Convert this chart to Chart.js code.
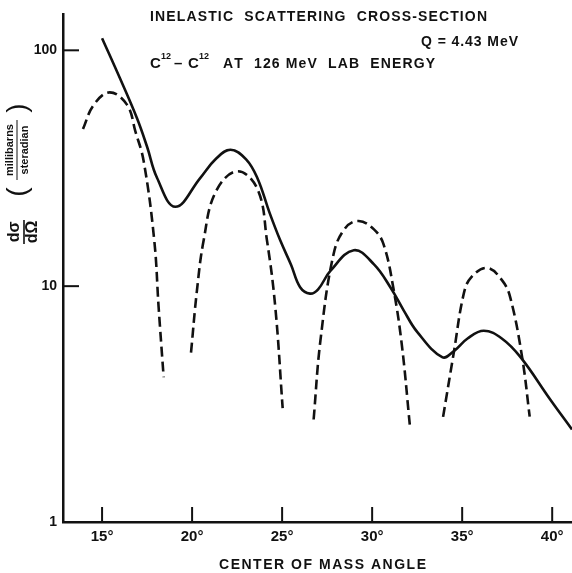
<!DOCTYPE html>
<html>
<head>
<meta charset="utf-8">
<script src="https://cdn.jsdelivr.net/npm/chart.js@4"></script>
<style>
  html, body { margin: 0; padding: 0; background: #fff; }
  canvas { display: block; }
</style>
</head>
<body>
<canvas id="myChart" width="572" height="573"></canvas>
<script>
// solid curve: measured cross-section
const solid_angle = [15.0, 16.0, 16.94, 17.5, 18.05, 19.07, 20.46, 21.3, 22.13, 23.0, 23.63, 24.3, 24.9, 25.5, 26.0, 26.55, 27.0, 27.68, 28.98, 30.09, 31.01, 31.75, 32.5, 33.89, 34.53, 35.3, 36.2, 37.2, 38.24, 39.9, 41.1];
const solid_value = [112.6, 75.9, 51.5, 39.0, 28.8, 21.7, 28.8, 34.5, 37.9, 34.5, 28.7, 20.5, 15.6, 12.3, 9.9, 9.3, 9.7, 11.6, 14.2, 12.4, 9.9, 7.9, 6.4, 5.0, 5.3, 6.0, 6.47, 6.0, 5.0, 3.3, 2.47];

// dashed curve: calculated lobes, null breaks the line between lobes
const dash_angle = [13.94, 14.53, 15.42, 16.39, 16.85, 17.31, 17.9, 18.14, 18.42, 19.2,
                    19.94, 20.27, 20.64, 21.3, 22.5, 23.63, 24.16, 24.62, 25.03, 25.9,
                    26.75, 27.13, 27.86, 28.5, 29.25, 30.1, 30.64, 31.2, 31.66, 32.09, 33.0,
                    33.94, 34.53, 35.09, 35.5, 36.39, 37.25, 37.68, 38.33, 38.75];
const dash_value = [46.4, 58.6, 66.3, 58.7, 45.3, 33.9, 15.6, 8.16, 4.11, null,
                    5.22, 9.6, 15.6, 25.0, 30.7, 25.8, 15.6, 8.16, 3.04, null,
                    2.72, 5.9, 13.7, 17.6, 18.9, 17.4, 15.0, 9.6, 5.54, 2.59, null,
                    2.79, 5.2, 9.3, 10.9, 11.95, 10.5, 8.9, 5.0, 2.8];

const x_ticks = [15, 20, 25, 30, 35, 40];
const y_ticks = [1, 10, 100];

const INK = "#111";

function spaced(ctx, text, x0, x1, y) {
  const chars = [...text];
  const widths = chars.map((c) => ctx.measureText(c).width);
  const total = widths.reduce((a, b) => a + b, 0);
  const gap = chars.length > 1 ? (x1 - x0 - total) / (chars.length - 1) : 0;
  let x = x0;
  chars.forEach((c, i) => {
    ctx.fillText(c, x, y);
    x += widths[i] + gap;
  });
}

const decorations = {
  id: "decorations",
  beforeDraw(chart) {
    const ctx = chart.ctx;
    ctx.save();
    ctx.fillStyle = "#fff";
    ctx.fillRect(0, 0, chart.width, chart.height);
    ctx.restore();
  },
  afterDraw(chart) {
    const ctx = chart.ctx;
    const xs = chart.scales.x, ys = chart.scales.y;
    const area = chart.chartArea;
    ctx.save();
    ctx.strokeStyle = INK;
    ctx.fillStyle = INK;
    ctx.lineWidth = 2;

    // inward tick marks
    x_ticks.forEach((v) => {
      const px = xs.getPixelForValue(v);
      ctx.beginPath();
      ctx.moveTo(px, area.bottom);
      ctx.lineTo(px, area.bottom - 15);
      ctx.stroke();
    });
    [10, 100].forEach((v) => {
      const py = ys.getPixelForValue(v);
      ctx.beginPath();
      ctx.moveTo(area.left, py);
      ctx.lineTo(area.left + 16, py);
      ctx.stroke();
    });

    // header text
    ctx.textBaseline = "middle";
    ctx.textAlign = "left";
    ctx.font = 'bold 14px "Liberation Sans"';
    spaced(ctx, "INELASTIC  SCATTERING  CROSS-SECTION", 150, 487, 17);
    spaced(ctx, "Q = 4.43 MeV", 421, 518, 42);
    ctx.font = 'bold 15px "Liberation Sans"';
    ctx.fillText("C", 150, 64);
    ctx.fillText("\u2013", 174, 64);
    ctx.fillText("C", 188, 64);
    ctx.font = 'bold 9px "Liberation Sans"';
    ctx.fillText("12", 161, 57);
    ctx.fillText("12", 199, 57);
    ctx.font = 'bold 14px "Liberation Sans"';
    spaced(ctx, "AT  126 MeV  LAB  ENERGY", 223, 435, 64);

    // x axis title
    ctx.font = 'bold 14px "Liberation Sans"';
    spaced(ctx, "CENTER OF MASS ANGLE", 219, 426, 565);

    // y axis title, rotated
    ctx.save();
    ctx.translate(24, 232);
    ctx.rotate(-Math.PI / 2);
    ctx.textAlign = "center";
    ctx.font = 'bold 16px "Liberation Sans"';
    ctx.fillText("d\u03C3", 0, -9);
    ctx.fillText("d\u03A9", 0, 9);
    ctx.lineWidth = 1.6;
    ctx.beginPath();
    ctx.moveTo(-12, 0);
    ctx.lineTo(12, 0);
    ctx.stroke();
    ctx.restore();

    ctx.save();
    ctx.translate(17, 150);
    ctx.rotate(-Math.PI / 2);
    ctx.textAlign = "center";
    ctx.font = 'bold 11px "Liberation Sans"';
    ctx.fillText("millibarns", 0, -7);
    ctx.fillText("steradian", 0, 8);
    ctx.lineWidth = 1;
    ctx.beginPath();
    ctx.moveTo(-30, 0);
    ctx.lineTo(30, 0);
    ctx.stroke();
    ctx.font = '28px "Liberation Sans"';
    ctx.fillText("(", -42, 1);
    ctx.fillText(")", 42, 1);
    ctx.restore();

    ctx.restore();
  },
};

const solid_points = solid_angle.map((a, i) => ({ x: a, y: solid_value[i] }));
const dash_points = dash_angle.map((a, i) => ({ x: a, y: dash_value[i] }));

const config = {
  type: "line",
  data: {
    datasets: [
      {
        label: "solid",
        data: solid_points,
        borderColor: INK,
        borderWidth: 2.6,
        pointRadius: 0,
        tension: 0.4,
        fill: false,
      },
      {
        label: "dashed",
        data: dash_points,
        borderColor: INK,
        borderWidth: 2.6,
        borderDash: [10, 5],
        pointRadius: 0,
        spanGaps: false,
        tension: 0.4,
        fill: false,
      },
    ],
  },
  options: {
    responsive: false,
    animation: false,
    layout: { padding: { top: 12, right: 0, bottom: 0, left: 0 } },
    plugins: {
      legend: { display: false },
      tooltip: { enabled: false },
    },
    scales: {
      x: {
        type: "linear",
        min: 12.83,
        max: 41.1,
        grid: { display: false, drawTicks: false },
        border: { display: true, color: INK, width: 2.5 },
        afterBuildTicks: (s) => { s.ticks = x_ticks.map((v) => ({ value: v })); },
        afterFit: (s) => { s.height = 51; },
        ticks: {
          color: INK,
          padding: 6,
          maxRotation: 0,
          font: { family: "Liberation Sans", size: 15, weight: "bold" },
          callback: (v) => v + "\u00B0",
        },
      },
      y: {
        type: "logarithmic",
        min: 1,
        max: 142,
        grid: { display: false, drawTicks: false },
        border: { display: true, color: INK, width: 2.5 },
        afterBuildTicks: (s) => { s.ticks = y_ticks.map((v) => ({ value: v })); },
        afterFit: (s) => { s.width = 63; },
        ticks: {
          color: INK,
          padding: 6,
          font: { family: "Liberation Sans", size: 14, weight: "bold" },
          callback: (v) => String(v),
        },
      },
    },
  },
  plugins: [decorations],
};

var myChart = new Chart(document.getElementById("myChart"), config);
</script>
</body>
</html>
